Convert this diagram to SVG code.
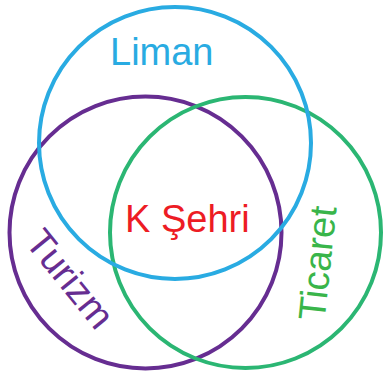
<svg xmlns="http://www.w3.org/2000/svg" width="383" height="376" viewBox="0 0 383 376">
<style>
.c{fill:none;stroke-width:4}
.t{font-family:"Liberation Sans",Arial,sans-serif;font-size:38px}
</style>
<rect width="383" height="376" fill="#fff"/>
<g id="turizm">
<circle class="c" cx="145.5" cy="232.5" r="136" stroke="#662D91"/>
<text class="t" fill="#662D91" text-anchor="middle" transform="translate(60,287) rotate(51)">Turizm</text>
</g>
<g id="ticaret">
<circle class="c" cx="245.5" cy="232.5" r="135.5" stroke="#2BB673"/>
<text class="t" fill="#39B54A" text-anchor="middle" transform="translate(330.5,264.5) rotate(-84)">Ticaret</text>
</g>
<g id="liman">
<circle class="c" cx="175" cy="143" r="136" stroke="#29ABE2"/>
<text class="t" fill="#29ABE2" x="110" y="65">Liman</text>
</g>
<g id="ksehri">
<text class="t" fill="#ED1C24" x="125" y="231.5">K Şehri</text>
</g>
<g id="connectors"></g>
</svg>
